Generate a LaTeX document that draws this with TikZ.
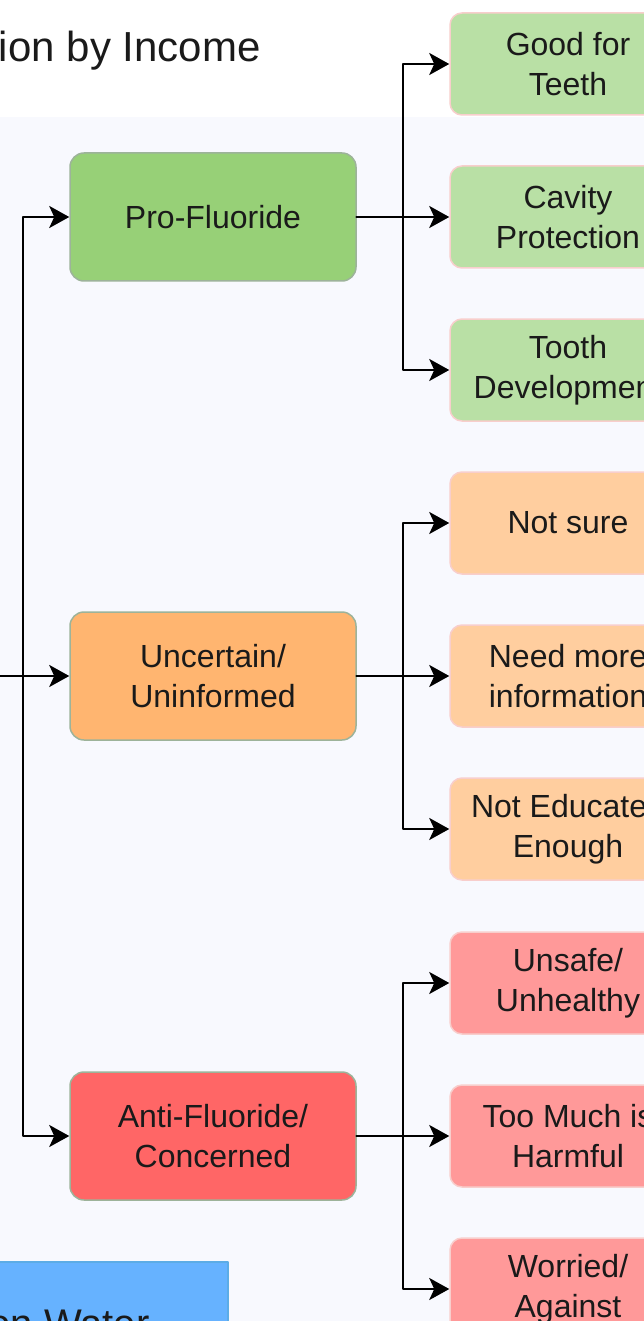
\documentclass[tikz,border=0pt]{standalone}
\usepackage{fontspec}
\setmainfont{Liberation Sans}
\usetikzlibrary{arrows.meta,positioning}

\definecolor{ink}{HTML}{1A1A1A}
\definecolor{panelbg}{HTML}{F8F9FE}
\definecolor{midline}{HTML}{9DB39A}
\definecolor{leafline}{HTML}{F8CECC}
\definecolor{profill}{HTML}{97D077}
\definecolor{uncfill}{HTML}{FFB570}
\definecolor{antifill}{HTML}{FF6666}
\definecolor{proleaf}{HTML}{B9E0A5}
\definecolor{uncleaf}{HTML}{FFCE9F}
\definecolor{antileaf}{HTML}{FF9999}
\definecolor{waterfill}{HTML}{66B2FF}
\definecolor{waterline}{HTML}{5CACE6}

\begin{document}
\begin{tikzpicture}[x=1pt, y=-1pt, line cap=round, line join=round,
		>={Stealth[length=20pt,width=22pt,inset=5pt]},
		midbox/.style={draw=midline, line width=1.5pt, rounded corners=14pt,
			minimum width=286pt, minimum height=128pt, align=center, text=ink,
			font=\fontsize{32}{40}\selectfont},
		leafbox/.style={draw=leafline, line width=1.5pt, rounded corners=12pt,
			minimum width=236pt, minimum height=102pt, align=center, text=ink,
			font=\fontsize{32}{40}\selectfont},
		link/.style={->, line width=2.5pt}]
		
		\useasboundingbox (0,0) rectangle (644,1321);
		\clip (0,0) rectangle (644,1321);
		\fill[white] (0,0) rectangle (644,1321);
		\fill[panelbg] (0,117) rectangle (644,1321);
		
		% title, cut at the left edge
		\node[anchor=base east, text=ink, font=\fontsize{42}{50}\selectfont] (title) at (264,62) {ion by Income};
		
		% middle column
		\node[midbox, fill=profill] (pro) at (213,217) {Pro-Fluoride};
		\node[midbox, fill=uncfill] (unc) at (213,676) {Uncertain/\\Uninformed};
		\node[midbox, fill=antifill] (anti) at (213,1136) {Anti-Fluoride/\\Concerned};
		
		% right column
		\node[leafbox, fill=proleaf] (teeth) at (568,64) {Good for\\Teeth};
		\node[leafbox, fill=proleaf] (cavity) at (568,217) {Cavity\\Protection};
		\node[leafbox, fill=proleaf] (develop) at (568,370) {Tooth\\Development};
		
		\node[leafbox, fill=uncleaf] (notsure) at (568,523) {Not sure};
		\node[leafbox, fill=uncleaf] (moreinfo) at (568,676) {Need more\\information};
		\node[leafbox, fill=uncleaf] (noteduc) at (568,829) {Not Educated\\Enough};
		
		\node[leafbox, fill=antileaf] (unsafe) at (568,983) {Unsafe/\\Unhealthy};
		\node[leafbox, fill=antileaf] (toomuch) at (568,1136) {Too Much is\\Harmful};
		\node[leafbox, fill=antileaf] (worried) at (568,1289) {Worried/\\Against};
		
		% bottom left box
		\node[fill=waterfill, draw=waterline, line width=1.5pt, minimum width=318pt,
		minimum height=124pt, text=ink, font=\fontsize{40}{48}\selectfont] (water) at (69,1324) {on Water};
		
		% from the root (off the left edge)
		\coordinate (root) at (-40,676);
		\coordinate (split) at (23,676);
		\draw[link] (root) -- (unc);
		\draw[link] (split) |- (pro);
		\draw[link] (split) |- (anti);
		
		\draw[link] (pro.east) -- ++(46,0) |- (teeth);
		\draw[link] (pro) -- (cavity);
		\draw[link] (pro.east) -- ++(46,0) |- (develop);
		
		\draw[link] (unc.east) -- ++(46,0) |- (notsure);
		\draw[link] (unc) -- (moreinfo);
		\draw[link] (unc.east) -- ++(46,0) |- (noteduc);
		
		\draw[link] (anti.east) -- ++(46,0) |- (unsafe);
		\draw[link] (anti) -- (toomuch);
		\draw[link] (anti.east) -- ++(46,0) |- (worried);
		
	\end{tikzpicture}
\end{document}
